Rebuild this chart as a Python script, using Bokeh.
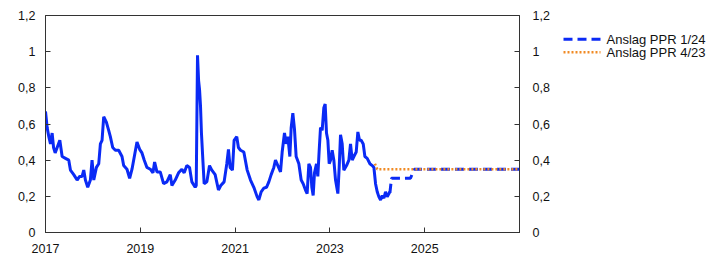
from bokeh.plotting import figure
from bokeh.layouts import row
from bokeh.models import LinearAxis, Range1d, FixedTicker
from bokeh.core.properties import value
from bokeh.embed import file_html
from bokeh.resources import INLINE

# Observed series (decimal year, value)
obs_year = [
    2017.000, 2017.035, 2017.070, 2017.105, 2017.140, 2017.170, 2017.204, 2017.246, 2017.302,
    2017.351, 2017.421, 2017.491, 2017.526, 2017.596, 2017.667, 2017.720, 2017.772, 2017.807,
    2017.842, 2017.891, 2017.947, 2017.982, 2018.018, 2018.074, 2018.123, 2018.158, 2018.193,
    2018.228, 2018.284, 2018.333, 2018.368, 2018.418, 2018.474, 2018.544, 2018.614, 2018.649,
    2018.719, 2018.775, 2018.825, 2018.874, 2018.930, 2018.986, 2019.035, 2019.084, 2019.140,
    2019.211, 2019.267, 2019.302, 2019.351, 2019.421, 2019.491, 2019.561, 2019.632, 2019.667,
    2019.737, 2019.807, 2019.877, 2019.926, 2019.982, 2020.039, 2020.088, 2020.158, 2020.180,
    2020.207, 2020.230, 2020.250, 2020.270, 2020.290, 2020.320, 2020.347, 2020.404, 2020.460,
    2020.509, 2020.579, 2020.649, 2020.698, 2020.768, 2020.825, 2020.860, 2020.895, 2020.944,
    2020.979, 2021.035, 2021.070, 2021.114, 2021.184, 2021.255, 2021.325, 2021.395, 2021.466,
    2021.501, 2021.550, 2021.606, 2021.662, 2021.712, 2021.761, 2021.817, 2021.852, 2021.902,
    2021.958, 2021.993, 2022.042, 2022.077, 2022.113, 2022.155, 2022.183, 2022.218, 2022.253,
    2022.288, 2022.345, 2022.394, 2022.436, 2022.485, 2022.520, 2022.556, 2022.591, 2022.619,
    2022.647, 2022.675, 2022.717, 2022.745, 2022.774, 2022.802, 2022.837, 2022.872, 2022.900,
    2022.928, 2022.957, 2022.985, 2023.013, 2023.048, 2023.083, 2023.119, 2023.168, 2023.196,
    2023.224, 2023.259, 2023.294, 2023.351, 2023.400, 2023.435, 2023.471, 2023.506, 2023.555,
    2023.590, 2023.625, 2023.660, 2023.703, 2023.738, 2023.787, 2023.844, 2023.893, 2023.928,
    2023.963, 2023.998, 2024.034, 2024.069, 2024.104, 2024.139, 2024.174, 2024.209, 2024.266,
]
obs_value = [
    0.67, 0.58, 0.53, 0.49, 0.55, 0.47, 0.44, 0.47, 0.51,
    0.42, 0.41, 0.40, 0.345, 0.32, 0.29, 0.31, 0.31, 0.345,
    0.29, 0.25, 0.29, 0.40, 0.29, 0.36, 0.38, 0.49, 0.51,
    0.64, 0.61, 0.565, 0.53, 0.47, 0.455, 0.455, 0.42, 0.37,
    0.35, 0.30, 0.35, 0.42, 0.50, 0.46, 0.44, 0.40, 0.36,
    0.35, 0.33, 0.39, 0.335, 0.335, 0.27, 0.28, 0.32, 0.26,
    0.29, 0.33, 0.35, 0.33, 0.37, 0.36, 0.28, 0.25, 0.26,
    0.98, 0.84, 0.79, 0.70, 0.55, 0.40, 0.27, 0.28, 0.37,
    0.345, 0.32, 0.235, 0.26, 0.28, 0.38, 0.46, 0.36, 0.345,
    0.51, 0.53, 0.47, 0.455, 0.445, 0.345, 0.29, 0.25, 0.197,
    0.18, 0.225, 0.245, 0.25, 0.28, 0.32, 0.36, 0.40, 0.37,
    0.335, 0.445, 0.55, 0.49, 0.53, 0.42, 0.58, 0.66, 0.57,
    0.42, 0.38, 0.29, 0.27, 0.235, 0.215, 0.38, 0.36, 0.25,
    0.205, 0.33, 0.38, 0.31, 0.455, 0.58, 0.565, 0.69, 0.71,
    0.55, 0.51, 0.38, 0.40, 0.455, 0.40, 0.29, 0.215, 0.36,
    0.54, 0.49, 0.345, 0.37, 0.40, 0.49, 0.40, 0.42, 0.445,
    0.556, 0.51, 0.51, 0.49, 0.42, 0.41, 0.38, 0.37, 0.36,
    0.27, 0.225, 0.197, 0.18, 0.205, 0.19, 0.225, 0.197, 0.225,
]

# Forecast PPR 1/24
ppr124_year = [2024.266, 2024.30, 2024.40, 2024.55, 2024.70, 2024.78, 2025.0, 2026.0, 2027.0]
ppr124_value = [0.22, 0.30, 0.30, 0.30, 0.30, 0.35, 0.35, 0.35, 0.35]

# Forecast PPR 4/23
ppr423_year = [2023.95, 2024.0, 2025.0, 2026.0, 2027.0]
ppr423_value = [0.38, 0.35, 0.35, 0.35, 0.35]

x_ticks = [2017, 2019, 2021, 2023, 2025, 2027]
x_labels = ["2017", "2019", "2021", "2023", "2025", ""]
y_ticks = [0, 0.2, 0.4, 0.6, 0.8, 1.0, 1.2]
y_labels = ["0", "0,2", "0,4", "0,6", "0,8", "1", "1,2"]
legend_labels = ["Anslag PPR 1/24", "Anslag PPR 4/23"]

FONT = "Liberation Sans"
BLUE = "#0a2af5"
ORANGE = "#f08a24"
DASH_BLUE = "9 5"
DOT_ORANGE = "2 2"

p = figure(width=560, height=265, output_backend="svg", toolbar_location=None,
           x_range=Range1d(2017, 2027), y_range=Range1d(0, 1.2),
           min_border_left=45, min_border_right=41, min_border_top=15, min_border_bottom=33,
           y_axis_location=None)
p.grid.visible = False
p.outline_line_color = "#333333"
p.outline_line_width = 1
p.background_fill_color = "white"
p.border_fill_color = "white"

p.line(obs_year, obs_value, line_color=BLUE, line_width=3)
p.line(ppr124_year, ppr124_value, line_color=BLUE, line_width=3, line_dash=DASH_BLUE)
p.line(ppr423_year, ppr423_value, line_color=ORANGE, line_width=2.5, line_dash=DOT_ORANGE)

def style_axis(ax, standoff):
    ax.axis_line_color = "#333333"
    ax.major_tick_line_color = "#333333"
    ax.major_tick_in = 5
    ax.major_tick_out = 0
    ax.minor_tick_line_color = None
    ax.major_label_text_font = FONT
    ax.major_label_text_font_size = "12.5px"
    ax.major_label_text_color = "#111111"
    ax.major_label_standoff = standoff

xa = p.xaxis[0]
xa.ticker = FixedTicker(ticks=x_ticks)
xa.major_label_overrides = {t: l for t, l in zip(x_ticks, x_labels)}
style_axis(xa, 11)

yl = LinearAxis(ticker=FixedTicker(ticks=y_ticks),
                major_label_overrides={t: l for t, l in zip(y_ticks, y_labels)})
style_axis(yl, 10)
p.add_layout(yl, "left")

yr = LinearAxis(ticker=FixedTicker(ticks=y_ticks),
                major_label_overrides={t: l for t, l in zip(y_ticks, y_labels)})
style_axis(yr, 13)
yr.major_label_text_align = "left"
p.add_layout(yr, "right")

# Legend panel (screen-like coordinates: x from 0, y from top)
lg = figure(width=162, height=265, output_backend="svg", toolbar_location=None,
            x_range=Range1d(0, 162), y_range=Range1d(265, 0),
            min_border=0, x_axis_location=None, y_axis_location=None)
lg.grid.visible = False
lg.outline_line_color = None
lg.background_fill_color = "white"
lg.border_fill_color = "white"
lg.line([3, 40], [29, 29], line_color=BLUE, line_width=3, line_dash=DASH_BLUE)
lg.line([3, 40], [45, 45], line_color=ORANGE, line_width=2.5, line_dash=DOT_ORANGE)
lg.text([46, 46], [29, 45], text=legend_labels, text_font=value(FONT),
        text_font_size="13px", text_baseline="middle", text_align="left", text_color="#111111")

layout = row(p, lg, spacing=0)
open("out.html", "w").write(file_html(layout, INLINE))
